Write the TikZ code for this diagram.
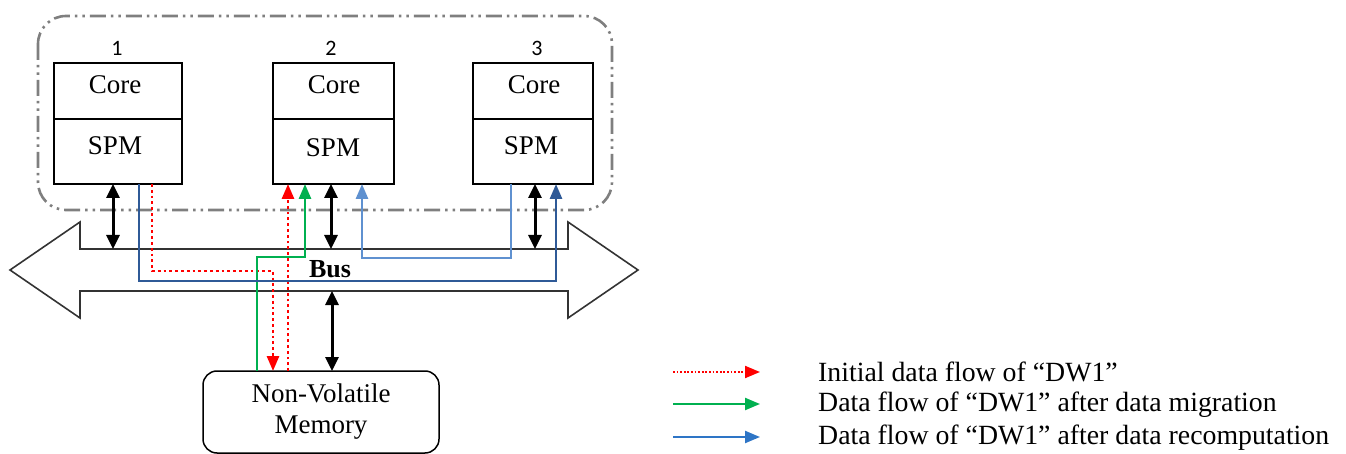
\documentclass[tikz,border=0pt]{standalone}
\usepackage{fontspec}
\setmainfont{Liberation Serif}
\newfontfamily\calibfont{Carlito}
\usetikzlibrary{arrows.meta,calc}
\definecolor{flowred}{HTML}{FF0000}
\definecolor{flowgreen}{HTML}{00B050}
\definecolor{flownavy}{HTML}{2F5A97}
\definecolor{flowlight}{HTML}{5F91D0}
\definecolor{flowblue}{HTML}{2E75C6}
\definecolor{outergray}{HTML}{7F7F7F}
\begin{document}
\begin{tikzpicture}[x=1pt,y=-1pt,
  cell/.style={draw, line width=1.8pt, inner sep=0pt, outer sep=0pt},
  txt/.style={font=\fontsize{27}{32}\selectfont, inner sep=0pt},
  num/.style={font=\calibfont\fontsize{22}{26}\selectfont, inner sep=0pt},
  legtxt/.style={font=\fontsize{27.8}{32}\selectfont, anchor=west, inner sep=0pt},
  biarrow/.style={line width=3pt, {Triangle[length=14pt,width=13pt]}-{Triangle[length=14pt,width=13pt]}},
  headtip/.style={-{Triangle[length=15pt,width=12pt]}},
  redflow/.style={draw=flowred, line width=2.8pt, dash pattern=on 2.8pt off 3pt, headtip, flowred},
  greenflow/.style={draw=flowgreen, line width=2.8pt, headtip, flowgreen},
  navyflow/.style={draw=flownavy, line width=2.8pt, headtip, flownavy},
  lightflow/.style={draw=flowlight, line width=2.8pt, headtip, flowlight},
]
\useasboundingbox (0,0) rectangle (1346,454);

% outer dash-dot-dot region
\draw[outergray, line width=2.6pt, rounded corners=28pt,
      dash pattern=on 16pt off 5pt on 2.5pt off 5pt on 2.5pt off 5pt]
  (38,16) rectangle (612,210);

% bus
\draw[line width=1.6pt, draw=black!80]
  (10,270) -- (80,222) -- (80,249) -- (568,249) -- (568,222) -- (638,270)
  -- (568,318) -- (568,291) -- (80,291) -- (80,318) -- cycle;
\node[font=\bfseries\fontsize{26}{30}\selectfont, inner sep=0pt] (buslbl) at (330,269) {Bus};

% cores
\node[cell, minimum width=128pt, minimum height=56pt] (core1) at (118,91) {};
\node[cell, minimum width=128pt, minimum height=65pt, anchor=north] (spm1) at (core1.south) {};
\node[cell, minimum width=121pt, minimum height=56pt] (core2) at (333.5,91) {};
\node[cell, minimum width=121pt, minimum height=65pt, anchor=north] (spm2) at (core2.south) {};
\node[cell, minimum width=120pt, minimum height=56pt] (core3) at (533,91) {};
\node[cell, minimum width=120pt, minimum height=65pt, anchor=north] (spm3) at (core3.south) {};

\node[txt] (core1t) at (115,85) {Core};
\node[txt] (core2t) at (334,85) {Core};
\node[txt] (core3t) at (534,85) {Core};
\node[txt] (spm1t) at (115,146) {SPM};
\node[txt] (spm2t) at (333,148) {SPM};
\node[txt] (spm3t) at (531,146) {SPM};

\node[num] (n1) at (117,48) {1};
\node[num] (n2) at (331,48) {2};
\node[num] (n3) at (537,48) {3};

% memory
\node[draw, line width=1.5pt, rounded corners=14pt, minimum width=236pt, minimum height=82pt,
      align=center, font=\fontsize{27}{31}\selectfont, inner sep=0pt, outer sep=0pt] (nvm) at (321,412)
  {Non-Volatile\\Memory};

% bus attachment coordinates
\coordinate (bt1) at (113,249);
\coordinate (bt2) at (331,249);
\coordinate (bt3) at (535,249);
\coordinate (bb) at (332,291);

\draw[biarrow] (spm1.south -| bt1) -- (bt1);
\draw[biarrow] (spm2.south -| bt2) -- (bt2);
\draw[biarrow] (spm3.south -| bt3) -- (bt3);
\draw[biarrow] (bb) -- (nvm.north -| bb);

% flows
\coordinate (r1) at (152,271);
\coordinate (r2) at (273,271);
\coordinate (r3) at (288,300);
\draw[redflow] (spm1.south -| r1) -- (r1) -- (r2) -- (nvm.north -| r2);
\draw[redflow] (nvm.north -| r3) -- (spm2.south -| r3);

\coordinate (g1) at (257,257);
\coordinate (g2) at (305,257);
\draw[greenflow] (nvm.north -| g1) -- (g1) -- (g2) -- (spm2.south -| g2);

\coordinate (v1) at (139,281);
\coordinate (v2) at (556,281);
\draw[navyflow] (spm1.south -| v1) -- (v1) -- (v2) -- (spm3.south -| v2);

\coordinate (w1) at (511,258);
\coordinate (w2) at (362,258);
\draw[lightflow] (spm3.south -| w1) -- (w1) -- (w2) -- (spm2.south -| w2);

% legend
\coordinate (la1) at (673,372); \coordinate (lb1) at (760,372);
\coordinate (la2) at (673,404); \coordinate (lb2) at (760,404);
\coordinate (la3) at (673,437); \coordinate (lb3) at (760,437);
\draw[redflow, line width=2pt, dash pattern=on 1.8pt off 1.8pt] (la1) -- (lb1);
\draw[greenflow, line width=2.2pt] (la2) -- (lb2);
\draw[draw=flowblue, fill=flowblue, line width=2.2pt, headtip] (la3) -- (lb3);
\node[legtxt] (lt1) at (818,372) {Initial data flow of “DW1”};
\node[legtxt] (lt2) at (818,405) {Data flow of “DW1” after data migration};
\node[legtxt] (lt3) at (818,438) {Data flow of “DW1” after data recomputation};
\end{tikzpicture}
\end{document}
